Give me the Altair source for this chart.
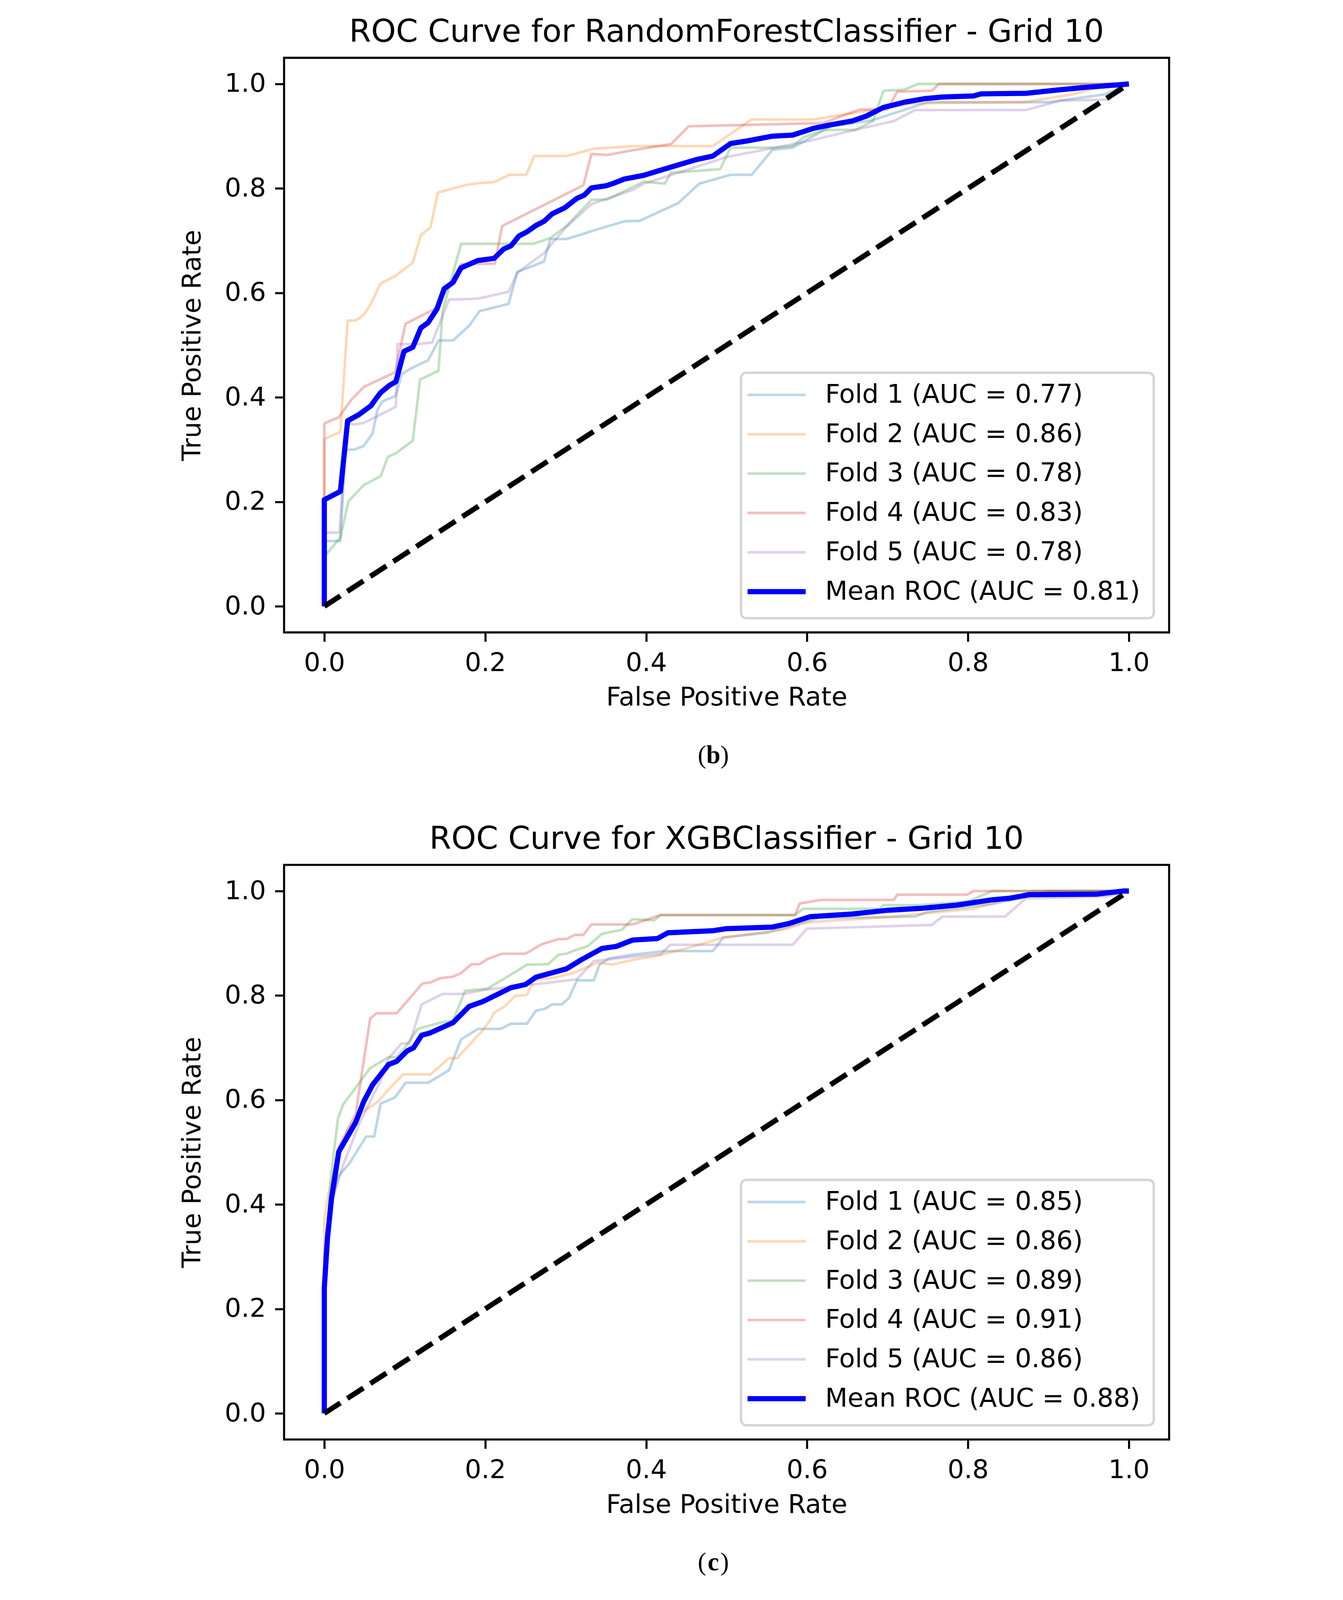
import altair as alt
import pandas as pd

# ---------------- data ----------------
TICKS = [0.0, 0.2, 0.4, 0.6, 0.8, 1.0]
COLORS = ["#1f77b4", "#ff7f0e", "#2ca02c", "#d62728", "#9467bd", "#0000ff"]
OPACITIES = [0.3, 0.3, 0.3, 0.3, 0.3, 1.0]
WIDTHS = [8.8, 8.8, 8.8, 8.8, 8.8, 17.6]
CHANCE_X = [0.0, 1.0]
CHANCE_Y = [0.0, 1.0]

TITLES = ["ROC Curve for RandomForestClassifier - Grid 10",
          "ROC Curve for XGBClassifier - Grid 10"]
CAPTIONS = ["b", "c"]

LABELS_RF = ["Fold 1 (AUC = 0.77)", "Fold 2 (AUC = 0.86)", "Fold 3 (AUC = 0.78)",
             "Fold 4 (AUC = 0.83)", "Fold 5 (AUC = 0.78)", "Mean ROC (AUC = 0.81)"]
LABELS_XGB = ["Fold 1 (AUC = 0.85)", "Fold 2 (AUC = 0.86)", "Fold 3 (AUC = 0.89)",
              "Fold 4 (AUC = 0.91)", "Fold 5 (AUC = 0.86)", "Mean ROC (AUC = 0.88)"]

# ---- RandomForest ----
RF_F1_FPR = [0, 0, 0.020, 0.026, 0.037, 0.049, 0.060, 0.066, 0.072, 0.089, 0.096, 0.106, 0.129, 0.142, 0.160, 0.180, 0.193, 0.229, 0.240, 0.273, 0.281, 0.301, 0.340, 0.373, 0.392, 0.440, 0.466, 0.505, 0.531, 0.557, 0.582, 0.630, 0.680, 0.720, 0.750, 0.900, 0.970, 1.0]
RF_F1_TPR = [0, 0.125, 0.125, 0.300, 0.300, 0.307, 0.331, 0.376, 0.392, 0.403, 0.444, 0.454, 0.471, 0.509, 0.509, 0.537, 0.565, 0.579, 0.640, 0.660, 0.703, 0.703, 0.722, 0.737, 0.738, 0.772, 0.809, 0.826, 0.826, 0.874, 0.878, 0.919, 0.930, 0.950, 0.965, 0.965, 0.980, 1.0]
RF_F2_FPR = [0, 0, 0.020, 0.029, 0.039, 0.049, 0.058, 0.070, 0.088, 0.110, 0.120, 0.132, 0.141, 0.175, 0.191, 0.211, 0.230, 0.251, 0.261, 0.301, 0.335, 0.383, 0.483, 0.531, 0.608, 0.656, 0.734, 0.870, 0.930, 0.980, 1.0]
RF_F2_TPR = [0, 0.320, 0.334, 0.547, 0.547, 0.558, 0.579, 0.618, 0.632, 0.658, 0.711, 0.725, 0.792, 0.806, 0.810, 0.812, 0.826, 0.826, 0.862, 0.862, 0.876, 0.881, 0.881, 0.932, 0.932, 0.944, 0.963, 0.965, 0.980, 1.0, 1.0]
RF_F3_FPR = [0, 0, 0.020, 0.030, 0.049, 0.070, 0.079, 0.089, 0.110, 0.119, 0.142, 0.147, 0.170, 0.260, 0.281, 0.301, 0.332, 0.352, 0.397, 0.423, 0.431, 0.492, 0.505, 0.557, 0.582, 0.596, 0.621, 0.660, 0.682, 0.695, 0.721, 0.738, 1.0]
RF_F3_TPR = [0, 0.095, 0.132, 0.201, 0.232, 0.249, 0.286, 0.293, 0.317, 0.434, 0.451, 0.565, 0.694, 0.694, 0.705, 0.728, 0.778, 0.779, 0.813, 0.809, 0.830, 0.837, 0.878, 0.878, 0.881, 0.898, 0.912, 0.912, 0.929, 0.987, 0.989, 1.0, 1.0]
RF_F4_FPR = [0, 0, 0.018, 0.034, 0.049, 0.088, 0.101, 0.137, 0.150, 0.170, 0.212, 0.221, 0.322, 0.332, 0.352, 0.383, 0.431, 0.453, 0.620, 0.665, 0.700, 0.712, 0.755, 0.764, 1.0]
RF_F4_TPR = [0, 0.350, 0.362, 0.396, 0.420, 0.448, 0.541, 0.569, 0.600, 0.655, 0.656, 0.728, 0.806, 0.866, 0.864, 0.873, 0.885, 0.919, 0.925, 0.951, 0.951, 0.985, 0.987, 1.0, 1.0]
RF_F5_FPR = [0, 0, 0.019, 0.028, 0.037, 0.049, 0.089, 0.091, 0.117, 0.134, 0.155, 0.191, 0.229, 0.240, 0.273, 0.300, 0.332, 0.383, 0.397, 0.450, 0.500, 0.550, 0.600, 0.665, 0.708, 0.734, 0.872, 0.915, 0.976, 0.989, 1.0]
RF_F5_TPR = [0, 0.141, 0.141, 0.351, 0.348, 0.351, 0.382, 0.502, 0.502, 0.505, 0.587, 0.589, 0.602, 0.639, 0.676, 0.725, 0.770, 0.797, 0.809, 0.835, 0.860, 0.875, 0.890, 0.914, 0.929, 0.950, 0.950, 0.968, 0.970, 1.0, 1.0]
RF_MEAN_FPR = [0, 0, 0.020, 0.029, 0.043, 0.058, 0.065, 0.070, 0.081, 0.089, 0.099, 0.110, 0.120, 0.129, 0.140, 0.149, 0.160, 0.170, 0.191, 0.211, 0.223, 0.232, 0.242, 0.252, 0.263, 0.273, 0.283, 0.299, 0.314, 0.323, 0.332, 0.350, 0.360, 0.373, 0.397, 0.414, 0.440, 0.462, 0.483, 0.505, 0.526, 0.557, 0.582, 0.608, 0.630, 0.656, 0.673, 0.695, 0.721, 0.747, 0.768, 0.807, 0.816, 0.872, 0.915, 0.950, 0.993, 1.0]
RF_MEAN_TPR = [0, 0.204, 0.220, 0.355, 0.367, 0.384, 0.399, 0.409, 0.423, 0.430, 0.488, 0.496, 0.533, 0.543, 0.569, 0.608, 0.620, 0.648, 0.662, 0.666, 0.684, 0.690, 0.709, 0.717, 0.729, 0.737, 0.751, 0.763, 0.781, 0.787, 0.801, 0.805, 0.810, 0.818, 0.825, 0.833, 0.845, 0.855, 0.862, 0.886, 0.891, 0.900, 0.902, 0.915, 0.922, 0.929, 0.938, 0.955, 0.965, 0.972, 0.975, 0.977, 0.981, 0.982, 0.989, 0.994, 0.999, 1.0]

# ---- XGB ----
XG_F1_FPR = [0, 0, 0.008, 0.018, 0.031, 0.052, 0.062, 0.070, 0.088, 0.101, 0.129, 0.155, 0.170, 0.191, 0.219, 0.232, 0.252, 0.263, 0.275, 0.283, 0.295, 0.304, 0.314, 0.335, 0.342, 0.354, 0.383, 0.423, 0.483, 0.496, 0.550, 0.613, 0.734, 0.750, 0.830, 0.876, 0.900, 1.0]
XG_F1_TPR = [0, 0.250, 0.400, 0.455, 0.478, 0.530, 0.530, 0.593, 0.605, 0.633, 0.633, 0.657, 0.716, 0.736, 0.736, 0.746, 0.746, 0.771, 0.775, 0.783, 0.783, 0.795, 0.829, 0.829, 0.859, 0.871, 0.878, 0.885, 0.885, 0.911, 0.920, 0.948, 0.951, 0.960, 0.975, 0.990, 1.0, 1.0]
XG_F2_FPR = [0, 0, 0.005, 0.018, 0.030, 0.044, 0.067, 0.078, 0.098, 0.132, 0.144, 0.155, 0.165, 0.196, 0.206, 0.211, 0.224, 0.237, 0.252, 0.260, 0.288, 0.309, 0.340, 0.358, 0.383, 0.410, 0.450, 0.496, 0.570, 0.600, 0.700, 0.764, 0.807, 0.850, 0.876, 0.880, 1.0]
XG_F2_TPR = [0, 0.370, 0.420, 0.500, 0.545, 0.573, 0.597, 0.617, 0.649, 0.649, 0.665, 0.680, 0.680, 0.732, 0.752, 0.767, 0.779, 0.799, 0.801, 0.829, 0.835, 0.843, 0.863, 0.859, 0.868, 0.875, 0.890, 0.911, 0.926, 0.940, 0.950, 0.960, 0.966, 0.986, 0.997, 1.0, 1.0]
XG_F3_FPR = [0, 0, 0.008, 0.017, 0.024, 0.034, 0.057, 0.080, 0.090, 0.100, 0.116, 0.144, 0.160, 0.175, 0.203, 0.252, 0.278, 0.291, 0.301, 0.314, 0.327, 0.345, 0.370, 0.383, 0.410, 0.418, 0.585, 0.595, 0.690, 0.695, 0.740, 0.800, 0.830, 1.0]
XG_F3_TPR = [0, 0.250, 0.450, 0.565, 0.593, 0.613, 0.661, 0.682, 0.682, 0.700, 0.736, 0.748, 0.752, 0.809, 0.813, 0.859, 0.860, 0.878, 0.880, 0.888, 0.894, 0.918, 0.926, 0.946, 0.944, 0.954, 0.954, 0.966, 0.966, 0.973, 0.973, 0.980, 1.0, 1.0]
XG_F4_FPR = [0, 0, 0.005, 0.018, 0.039, 0.057, 0.065, 0.090, 0.122, 0.132, 0.144, 0.160, 0.170, 0.183, 0.193, 0.203, 0.221, 0.250, 0.270, 0.291, 0.301, 0.311, 0.322, 0.332, 0.383, 0.418, 0.585, 0.591, 0.617, 0.708, 0.712, 0.799, 0.807, 1.0]
XG_F4_TPR = [0, 0.300, 0.380, 0.510, 0.573, 0.756, 0.766, 0.766, 0.823, 0.825, 0.833, 0.836, 0.843, 0.860, 0.860, 0.870, 0.880, 0.880, 0.898, 0.908, 0.908, 0.916, 0.916, 0.936, 0.936, 0.954, 0.954, 0.976, 0.983, 0.983, 0.993, 0.993, 1.0, 1.0]
XG_F5_FPR = [0, 0, 0.008, 0.024, 0.045, 0.070, 0.080, 0.096, 0.106, 0.121, 0.134, 0.147, 0.173, 0.200, 0.270, 0.314, 0.335, 0.383, 0.418, 0.430, 0.582, 0.600, 0.755, 0.768, 0.846, 0.872, 0.975, 1.0]
XG_F5_TPR = [0, 0.250, 0.400, 0.478, 0.560, 0.637, 0.680, 0.708, 0.708, 0.783, 0.793, 0.803, 0.803, 0.811, 0.823, 0.831, 0.866, 0.874, 0.879, 0.897, 0.897, 0.928, 0.935, 0.951, 0.951, 0.986, 0.990, 1.0]
XG_MEAN_FPR = [0, 0, 0.004, 0.009, 0.018, 0.039, 0.049, 0.060, 0.080, 0.090, 0.103, 0.111, 0.121, 0.131, 0.160, 0.180, 0.198, 0.232, 0.250, 0.263, 0.301, 0.319, 0.345, 0.363, 0.383, 0.414, 0.427, 0.483, 0.500, 0.557, 0.578, 0.604, 0.656, 0.699, 0.743, 0.786, 0.829, 0.851, 0.876, 0.959, 0.993, 1.0]
XG_MEAN_TPR = [0, 0.240, 0.337, 0.412, 0.501, 0.557, 0.597, 0.629, 0.668, 0.674, 0.694, 0.700, 0.724, 0.728, 0.748, 0.779, 0.789, 0.815, 0.821, 0.835, 0.851, 0.868, 0.890, 0.894, 0.906, 0.909, 0.920, 0.924, 0.928, 0.931, 0.938, 0.951, 0.956, 0.963, 0.967, 0.973, 0.983, 0.986, 0.993, 0.994, 1.0, 1.0]

RF_CURVES = [(RF_F1_FPR, RF_F1_TPR), (RF_F2_FPR, RF_F2_TPR), (RF_F3_FPR, RF_F3_TPR),
             (RF_F4_FPR, RF_F4_TPR), (RF_F5_FPR, RF_F5_TPR), (RF_MEAN_FPR, RF_MEAN_TPR)]
XG_CURVES = [(XG_F1_FPR, XG_F1_TPR), (XG_F2_FPR, XG_F2_TPR), (XG_F3_FPR, XG_F3_TPR),
             (XG_F4_FPR, XG_F4_TPR), (XG_F5_FPR, XG_F5_TPR), (XG_MEAN_FPR, XG_MEAN_TPR)]

# ---------------- layout / styling (whole figure scaled to fit the captured page) ----------------
S = 0.755
FONT = "DejaVu Sans"
W, H = round(3000 * S), round(1948 * S)
F_TXT = 88 * S
F_TITLE = 107 * S
CAP_X, CAP_Y, CAP_HALF = 1455 * S, 2392 * S, 24 * S
# legend box geometry, relative to the plot area (unscaled px)
LEG_X0, LEG_X1, LEG_Y0, LEG_Y1 = 1549, 2948, 1068, 1900
LEG_H0, LEG_H1, LEG_TX = 1571, 1768, 1834
LEG_ROW0, LEG_STEP = 1143, 133.4


def panel(title, labels, curves, cap):
    rows = []
    for lab, (fx, ty) in zip(labels, curves):
        for i, (a, b) in enumerate(zip(fx, ty)):
            rows.append({"series": lab, "order": i, "fpr": a, "tpr": b})
    df = pd.DataFrame(rows)
    mean_label = labels[-1]
    xs = alt.Scale(domain=[-0.05, 1.05], nice=False, zero=False)
    ys = alt.Scale(domain=[-0.05, 1.05], nice=False, zero=False)
    xax = alt.Axis(values=TICKS, format=".1f", labelFlush=False, labelOverlap=False)
    yax = alt.Axis(values=TICKS, format=".1f", labelFlush=False, labelOverlap=False)
    cscale = alt.Scale(domain=labels, range=COLORS)

    def enc(chart):
        return chart.encode(
            x=alt.X("fpr:Q", scale=xs, axis=xax, title="False Positive Rate"),
            y=alt.Y("tpr:Q", scale=ys, axis=yax, title="True Positive Rate"),
            color=alt.Color("series:N", scale=cscale, legend=None),
            order=alt.Order("order:Q"),
        )

    folds = enc(alt.Chart(df[df.series != mean_label]).mark_line(
        strokeWidth=WIDTHS[0] * S, opacity=OPACITIES[0], strokeJoin="round"))
    mean = enc(alt.Chart(df[df.series == mean_label]).mark_line(
        strokeWidth=WIDTHS[-1] * S, opacity=OPACITIES[-1], strokeJoin="round"))

    diag = alt.Chart(pd.DataFrame({"fpr": CHANCE_X, "tpr": CHANCE_Y})).mark_line(
        color="black", strokeWidth=17.6 * S, strokeDash=[65 * S, 28 * S]
    ).encode(
        x=alt.X("fpr:Q", scale=xs, title="False Positive Rate"),
        y=alt.Y("tpr:Q", scale=ys, title="True Positive Rate"),
    )

    # legend (matplotlib style, lower right, inside the axes)
    layers = [folds, mean, diag]
    layers.append(alt.Chart(pd.DataFrame({"k": [0]})).mark_rect(
        fill="white", fillOpacity=0.8, stroke="#d4d4d4", strokeWidth=8 * S,
        cornerRadius=18 * S
    ).encode(x=alt.value(LEG_X0 * S), x2=alt.value(LEG_X1 * S),
             y=alt.value(LEG_Y0 * S), y2=alt.value(LEG_Y1 * S)))
    for i, lab in enumerate(labels):
        yv = (LEG_ROW0 + i * LEG_STEP) * S
        ldf = pd.DataFrame({"label": [lab]})
        layers.append(alt.Chart(ldf).mark_rule(
            color=COLORS[i], opacity=OPACITIES[i], strokeWidth=WIDTHS[i] * S
        ).encode(x=alt.value(LEG_H0 * S), x2=alt.value(LEG_H1 * S), y=alt.value(yv)))
        layers.append(alt.Chart(ldf).mark_text(
            align="left", baseline="middle", font=FONT, fontSize=F_TXT, color="black"
        ).encode(x=alt.value(LEG_TX * S), y=alt.value(yv), text="label:N"))

    cap_df = pd.DataFrame({"o": ["("], "m": [cap], "c": [")"]})
    base = alt.Chart(cap_df)
    layers.append(base.mark_text(font="Liberation Serif", fontSize=86 * S, align="right",
                                 baseline="alphabetic", color="black").encode(
        x=alt.value(CAP_X - CAP_HALF), y=alt.value(CAP_Y), text="o:N"))
    layers.append(base.mark_text(font="Liberation Serif", fontSize=86 * S, align="center",
                                 baseline="alphabetic", fontWeight="bold", color="black").encode(
        x=alt.value(CAP_X), y=alt.value(CAP_Y), text="m:N"))
    layers.append(base.mark_text(font="Liberation Serif", fontSize=86 * S, align="left",
                                 baseline="alphabetic", color="black").encode(
        x=alt.value(CAP_X + CAP_HALF), y=alt.value(CAP_Y), text="c:N"))

    return alt.layer(*layers).properties(
        width=W, height=H, title=alt.TitleParams(text=title))


top = panel(TITLES[0], LABELS_RF, RF_CURVES, CAPTIONS[0])
bottom = panel(TITLES[1], LABELS_XGB, XG_CURVES, CAPTIONS[1])

chart = alt.vconcat(top, bottom, spacing=179 * S).resolve_scale(
    color="independent", x="independent", y="independent"
).properties(
    padding={"left": 448, "top": 31, "right": 5, "bottom": 5}
).configure_view(
    stroke="black", strokeWidth=7 * S
).configure_axis(
    domain=False, grid=False, ticks=True, tickColor="black", tickWidth=7 * S,
    tickSize=31 * S, labelPadding=31 * S, labelFont=FONT, labelFontSize=F_TXT,
    labelColor="black", titleFont=FONT, titleFontSize=F_TXT, titleFontWeight="normal",
    titleColor="black"
).configure_axisX(titlePadding=30 * S).configure_axisY(titlePadding=64 * S).configure_title(
    font=FONT, fontSize=F_TITLE, fontWeight="normal", color="black", anchor="middle",
    offset=32 * S, frame="group", baseline="alphabetic"
)

chart.save("out.html", embed_options={"renderer": "svg", "actions": False})
